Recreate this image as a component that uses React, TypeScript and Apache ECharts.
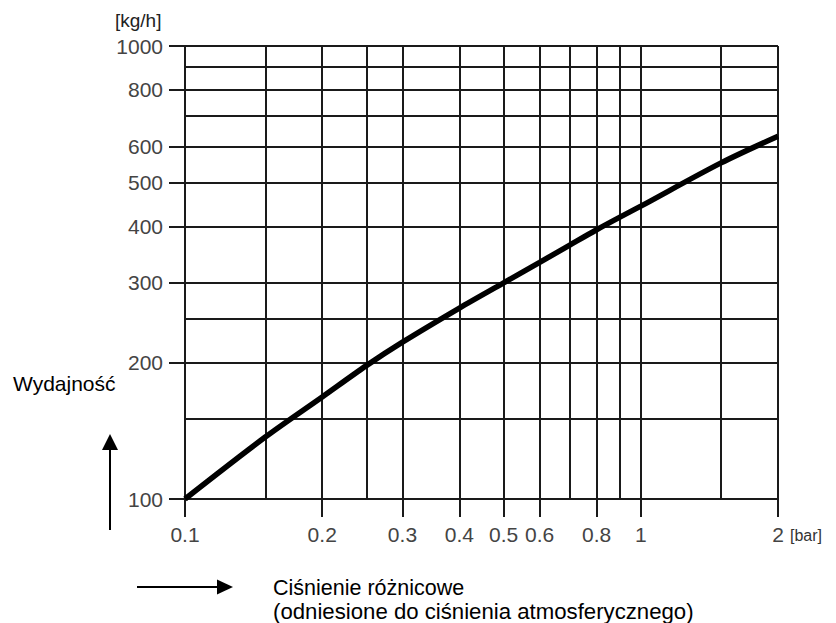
import React, { useEffect, useRef } from "react";
import * as echarts from "echarts";

// Data (log-log chart)
const pressureBar = [0.1, 0.15, 0.2, 0.25, 0.3, 0.4, 0.5, 0.6, 0.7, 0.8, 0.9, 1, 1.5, 2];
const flowKgH = [100, 137, 168, 197, 222, 264, 300, 333, 364, 393, 419, 443, 552, 632];

const xLabelValues = [0.1, 0.2, 0.3, 0.4, 0.5, 0.6, 0.8, 1, 2];
const xGridValues = [0.1, 0.15, 0.2, 0.25, 0.3, 0.4, 0.5, 0.6, 0.7, 0.8, 0.9, 1, 1.5, 2];
const yLabelValues = [100, 200, 300, 400, 500, 600, 800, 1000];
const yGridValues = [100, 150, 200, 250, 300, 400, 500, 600, 700, 800, 900, 1000];

const yUnit = "[kg/h]";
const xUnit = "[bar]";
const yTitle = "Wydajność";
const xTitle1 = "Ciśnienie różnicowe";
const xTitle2 = "(odniesione do ciśnienia atmosferycznego)";

const FONT = "Liberation Sans, Arial, sans-serif";
const GRID_COLOR = "#1a1a1a";
const TICK_COLOR = "#1a1a1a";
const LABEL_COLOR = "#444444";

export default function App() {
  const ref = useRef<HTMLDivElement>(null);

  useEffect(() => {
    if (!ref.current) return;
    const chart = echarts.init(ref.current, null, { renderer: "svg" });
    const fmt = (v: number) => String(+Number(v).toPrecision(3));

    const baseX = { type: "log", logBase: 10, min: 0.1, max: 2, position: "bottom", gridIndex: 0 };
    const baseY = { type: "log", logBase: 10, min: 100, max: 1000, position: "left", gridIndex: 0 };

    const option: any = {
      animation: false,
      backgroundColor: "#ffffff",
      grid: { left: 185, top: 46, width: 593, height: 453, containLabel: false },
      xAxis: [
        {
          ...baseX,
          axisLine: { show: true, lineStyle: { color: GRID_COLOR, width: 2 } },
          axisTick: { show: false },
          axisLabel: {
            show: true,
            customValues: xLabelValues,
            margin: 25,
            fontFamily: FONT,
            fontSize: 21,
            color: LABEL_COLOR,
            formatter: fmt,
            showMinLabel: true,
            showMaxLabel: true,
          },
          splitLine: { show: false },
        },
        {
          ...baseX,
          axisLine: { show: false },
          axisTick: { show: false, customValues: xGridValues },
          axisLabel: { show: false },
          splitLine: { show: true, lineStyle: { color: GRID_COLOR, width: 2 } },
        },
        {
          ...baseX,
          axisLine: { show: false },
          axisTick: {
            show: true,
            inside: false,
            length: 18,
            customValues: xLabelValues,
            lineStyle: { color: TICK_COLOR, width: 2 },
          },
          axisLabel: { show: false },
          splitLine: { show: false },
        },
      ],
      yAxis: [
        {
          ...baseY,
          axisLine: { show: true, lineStyle: { color: GRID_COLOR, width: 2 } },
          axisTick: { show: false },
          axisLabel: {
            show: true,
            customValues: yLabelValues,
            margin: 22,
            fontFamily: FONT,
            fontSize: 21,
            color: LABEL_COLOR,
            formatter: fmt,
            showMinLabel: true,
            showMaxLabel: true,
          },
          splitLine: { show: false },
        },
        {
          ...baseY,
          axisLine: { show: false },
          axisTick: { show: false, customValues: yGridValues },
          axisLabel: { show: false },
          splitLine: { show: true, lineStyle: { color: GRID_COLOR, width: 2 } },
        },
        {
          ...baseY,
          axisLine: { show: false },
          axisTick: {
            show: true,
            inside: false,
            length: 16,
            customValues: yLabelValues,
            lineStyle: { color: TICK_COLOR, width: 2 },
          },
          axisLabel: { show: false },
          splitLine: { show: false },
        },
      ],
      series: [
        {
          type: "line",
          xAxisIndex: 0,
          yAxisIndex: 0,
          data: pressureBar.map((p, i) => [p, flowKgH[i]]),
          smooth: 0.3,
          symbol: "none",
          lineStyle: { color: "#000000", width: 5.5 },
          z: 5,
        },
      ],
      graphic: [
        {
          type: "text",
          left: 115,
          top: 11,
          style: { text: yUnit, fontFamily: FONT, fontSize: 19, fill: "#222" },
        },
        {
          type: "text",
          left: 790,
          top: 527,
          style: { text: xUnit, fontFamily: FONT, fontSize: 16, fill: "#333" },
        },
        {
          type: "text",
          left: 13,
          top: 373,
          style: { text: yTitle, fontFamily: FONT, fontSize: 21, fill: "#000" },
        },
        {
          type: "line",
          shape: { x1: 110, y1: 530, x2: 110, y2: 447 },
          style: { stroke: "#000", lineWidth: 2 },
        },
        {
          type: "polygon",
          shape: { points: [[110, 434], [102, 450], [118, 450]] },
          style: { fill: "#000" },
        },
        {
          type: "line",
          shape: { x1: 137, y1: 587, x2: 220, y2: 587 },
          style: { stroke: "#000", lineWidth: 2 },
        },
        {
          type: "polygon",
          shape: { points: [[233, 587], [217, 579.5], [217, 594.5]] },
          style: { fill: "#000" },
        },
        {
          type: "text",
          left: 273,
          top: 577,
          style: { text: xTitle1, fontFamily: FONT, fontSize: 21.5, fill: "#000" },
        },
        {
          type: "text",
          left: 273,
          top: 600,
          style: { text: xTitle2, fontFamily: FONT, fontSize: 22.2, fill: "#000" },
        },
      ],
    };

    chart.setOption(option);
    return () => chart.dispose();
  }, []);

  return (
    <div
      ref={ref}
      style={{ position: "fixed", left: 0, top: 0, width: 836, height: 623, background: "#fff" }}
    />
  );
}
